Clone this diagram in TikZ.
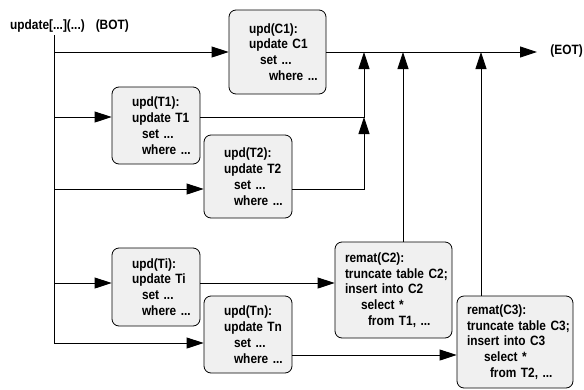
\documentclass[tikz,border=0pt]{standalone}
\usepackage{fontspec}
\setmainfont{Liberation Sans}[FakeStretch=0.88]
\usetikzlibrary{arrows.meta}
% never hyphenate the statement lines
\hyphenpenalty=10000
\exhyphenpenalty=10000
\begin{document}
\begin{tikzpicture}[x=1pt,y=-1pt,
  lbl/.style={font=\bfseries\fontsize{13.5}{15.8}\selectfont},
  opbox/.style={lbl, draw=black, line width=0.8pt, fill=black!6,
    rounded corners=7pt, align=left, inner ysep=0pt, inner xsep=20pt},
  rematbox/.style={opbox, inner xsep=10pt},
  arr/.style={line width=0.9pt, -{Triangle[length=17pt,width=11pt]}},
  wire/.style={line width=0.9pt}]
\useasboundingbox (0,0) rectangle (584,389);

% transaction start / end labels
\node[lbl, anchor=west, inner sep=0pt] (bot) at (10,26) {update[...](...)\hspace{11pt}(BOT)};
\node[lbl, anchor=east, inner sep=0pt] (eot) at (583,51) {(EOT)};

% statement boxes (non-breaking spaces keep each line whole)
\node[opbox, text width=57pt, minimum height=84pt] (c1) at (277.5,52)
  {upd(C1):\\update~C1\\\hspace*{11pt}set~...\\\hspace*{20pt}where~...};
\node[opbox, text width=48pt, minimum height=77pt] (t1) at (156,125.5)
  {upd(T1):\\update~T1\\\hspace*{10pt}set~...\\\hspace*{10pt}where~...};
\node[opbox, text width=48pt, minimum height=83pt] (t2) at (248,176.5)
  {upd(T2):\\update~T2\\\hspace*{10pt}set~...\\\hspace*{10pt}where~...};
\node[opbox, text width=48pt, minimum height=78pt] (ti) at (156,287)
  {upd(Ti):\\update~Ti\\\hspace*{10pt}set~...\\\hspace*{10pt}where~...};
\node[opbox, text width=48pt, minimum height=77pt] (tn) at (248,334.5)
  {upd(Tn):\\update~Tn\\\hspace*{10pt}set~...\\\hspace*{10pt}where~...};
\node[rematbox, text width=97pt, minimum height=96pt] (c2) at (393.5,290)
  {remat(C2):\\\mbox{truncate table C2;}\\insert~into~C2\\\hspace*{16pt}select~*\\\hspace*{23pt}from~T1,~...};
\node[rematbox, text width=96pt, minimum height=92pt] (c3) at (515,342)
  {remat(C3):\\\mbox{truncate table C3;}\\insert~into~C3\\\hspace*{17pt}select~*\\\hspace*{23pt}from~T2,~...};

% junction points
\coordinate (top) at (54,35);
\coordinate (bottom) at (54,343);
\coordinate (end) at (537,52);
\coordinate (j1) at (364,0);
\coordinate (j2) at (403,0);
\coordinate (j3) at (481,0);

% fan-out from BOT
\draw[wire] (top) -- (bottom);
\draw[arr] (top |- c1.west) -- (c1.west);
\coordinate (t1io) at ([yshift=8.5pt]t1.west);
\draw[arr] (top |- t1io) -- (t1io);
\coordinate (t2io) at ([yshift=-12.5pt]t2.west);
\draw[arr] (top |- t2io) -- (t2io);
\coordinate (tiio) at ([yshift=4pt]ti.west);
\draw[arr] (top |- tiio) -- (tiio);
\draw[arr] (bottom) -- (bottom -| tn.west);

% main line to EOT
\draw[arr] (c1.east) -- (end);

% results flowing back
\coordinate (t1out) at ([yshift=8.5pt]t1.east);
\draw[arr] (t1out) -| (j1 |- end);
\coordinate (t2out) at ([yshift=-12.5pt]t2.east);
\draw[arr] (t2out) -| (j1 |- t1out);
\coordinate (tiout) at ([yshift=4pt]ti.east);
\draw[arr] (tiout) -- (tiout -| c2.west);
\coordinate (tnout) at ([yshift=-20.5pt]tn.east);
\draw[arr] (tnout) -- (tnout -| c3.west);
\draw[arr] (c2.north -| j2) -- (j2 |- end);
\draw[arr] (c3.north -| j3) -- (j3 |- end);
\end{tikzpicture}
\end{document}
